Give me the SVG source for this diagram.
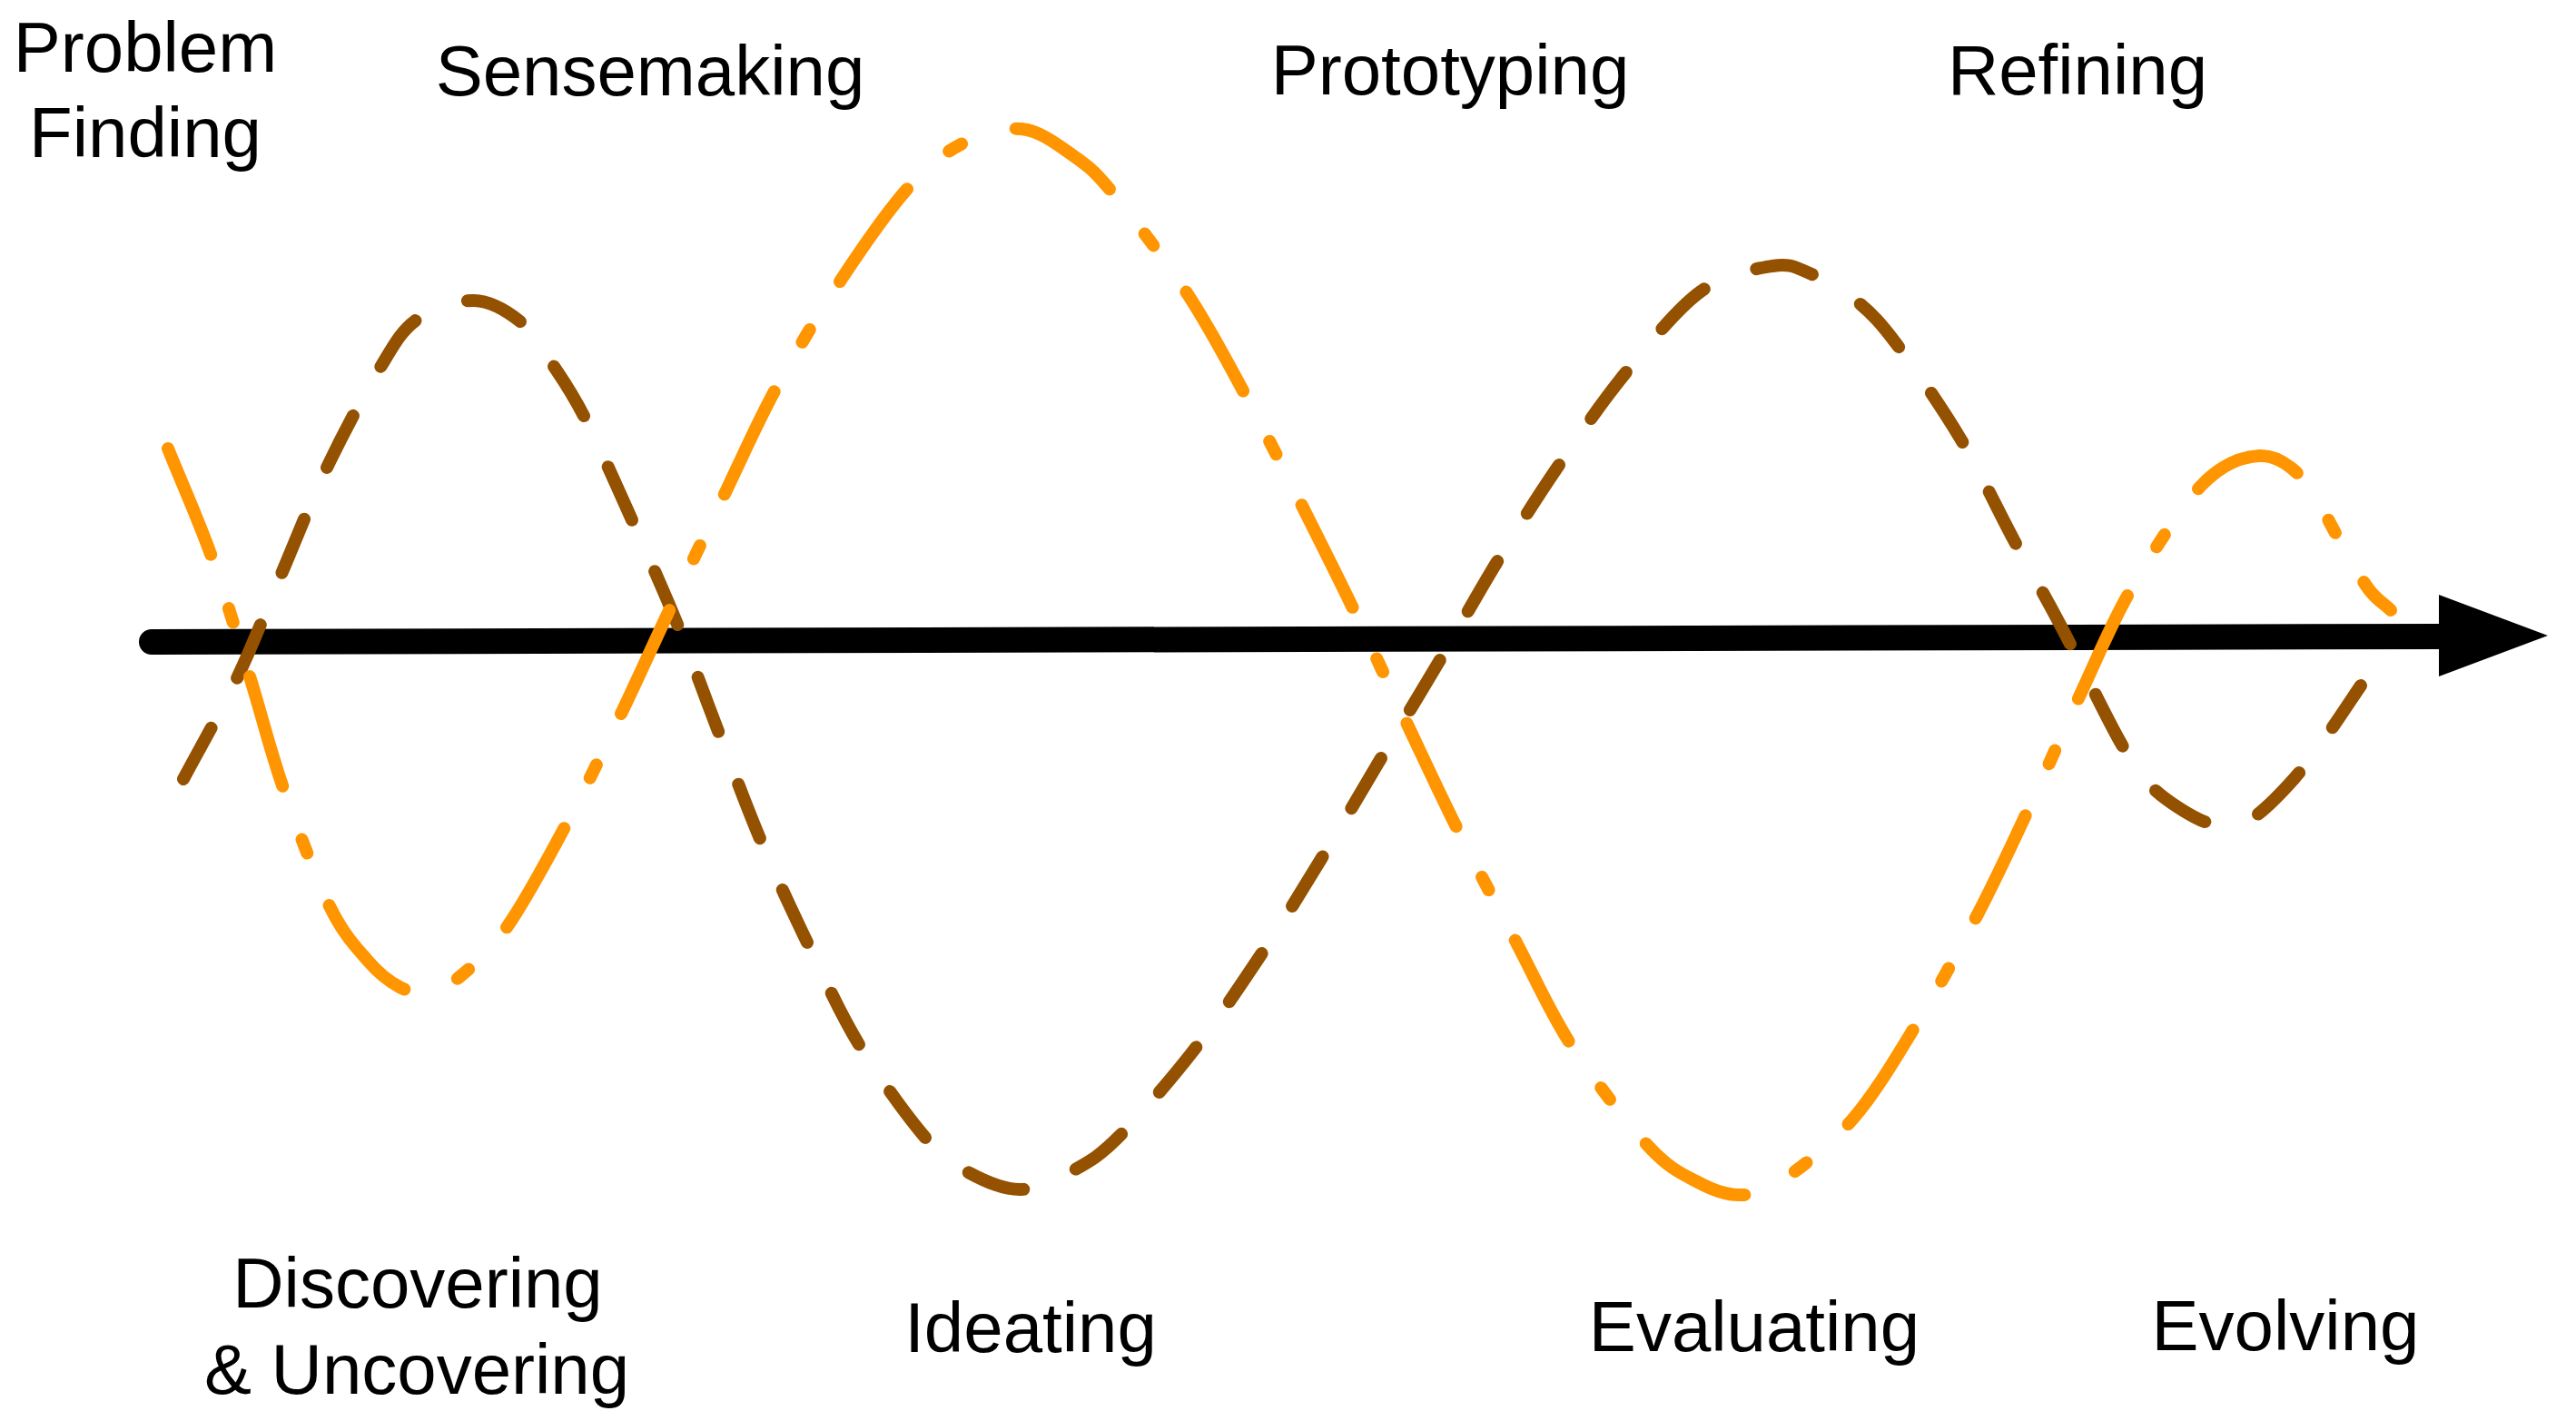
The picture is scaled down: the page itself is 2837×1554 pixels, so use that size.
<svg xmlns="http://www.w3.org/2000/svg" width="2837" height="1554" viewBox="0 0 2837 1554">
<style>
.lbl{font-family:"Liberation Sans",Arial,Helvetica,sans-serif;font-size:78px;fill:#000;text-anchor:middle}
.wave{fill:none;stroke-width:14;stroke-linecap:round;stroke-linejoin:round}
.orange{stroke:#FF9500;stroke-dasharray:126 62.5 16 62.5}
.brown{stroke:#945200;stroke-dasharray:64 62}
</style>
<rect x="0" y="0" width="2837" height="1554" fill="#fff"/>
<g id="connectors">
<path d="M167,707 L2690,701" stroke="#000" stroke-width="28" stroke-linecap="round" fill="none"/>
<polygon points="2686,655 2806,700 2686,745" fill="#000"/>
</g>
<g id="waves">
<path id="wave-brown" class="wave brown" d="M202,858 C221.7,821 243,784.3 261,747 C279,709.3 293.5,670.7 310,632 C326.5,593.3 342,552.7 360,515 C378,477.3 401.5,433.2 418,406 C434.5,378.8 441.7,364.5 459,352 C476.3,339.5 502.8,330.5 522,331 C541.2,331.5 559.5,343.2 574,355 C588.5,366.8 597.3,384.5 609,402 C620.7,419.5 629.3,431.2 644,460 C658.7,488.8 679.8,536.7 697,575 C714.2,613.3 731.2,651.2 747,690 C762.8,728.8 776.8,768.7 792,808 C807.2,847.3 821.7,887.3 838,926 C854.3,964.7 871.8,1002.3 890,1040 C908.2,1077.7 925.3,1116.3 947,1152 C968.7,1187.7 999.8,1230.7 1020,1254 C1040.2,1277.3 1050.5,1282.7 1068,1292 C1085.5,1301.3 1105.7,1310.7 1125,1310 C1144.3,1309.3 1165.8,1298 1184,1288 C1202.2,1278 1212,1272.2 1234,1250 C1256,1227.8 1290.2,1188.2 1316,1155 C1341.8,1121.8 1365.8,1085.8 1389,1051 C1412.2,1016.2 1433,982 1455,946 C1477,910 1499.5,871 1521,835 C1542.5,799 1562.8,765.8 1584,730 C1605.2,694.2 1626.2,655.8 1648,620 C1669.8,584.2 1691.3,549.8 1715,515 C1738.7,480.2 1763.7,443.3 1790,411 C1816.3,378.7 1846,340.7 1873,321 C1900,301.3 1932,296.3 1952,293 C1972,289.7 1977.7,294.7 1993,301 C2008.3,307.3 2028.2,318.2 2044,331 C2059.8,343.8 2068.8,352.7 2088,378 C2107.2,403.3 2137.3,446.8 2159,483 C2180.7,519.2 2199.5,560.5 2218,595 C2236.5,629.5 2250.5,653 2270,690 C2289.5,727 2318.5,787.7 2335,817 C2351.5,846.3 2354.7,851.8 2369,866 C2383.3,880.2 2407.2,895.2 2421,902 C2434.8,908.8 2442,907.2 2452,907 C2462,906.8 2468.5,909.3 2481,901 C2493.5,892.7 2513.2,872.5 2527,857 C2540.8,841.5 2551.8,825 2564,808 C2576.2,791 2588,772.7 2600,755"/>
<path id="wave-orange" class="wave orange" d="M185,494 C201,533.7 218,571.2 233,613 C248,654.8 261.8,702.5 275,745 C288.2,787.5 297.3,825.8 312,868 C326.7,910.2 347.5,966.3 363,998 C378.5,1029.7 392.2,1043.2 405,1058 C417.8,1072.8 429.2,1081.3 440,1087 C450.8,1092.7 459,1093.8 470,1092 C481,1090.2 491.2,1088 506,1076 C520.8,1064 539.5,1047.8 559,1020 C578.5,992.2 602,948.3 623,909 C644,869.7 665.7,824.2 685,784 C704.3,743.8 720,708.3 739,668 C758,627.7 779.7,582.2 799,542 C818.3,501.8 833.7,466.2 855,427 C876.3,387.8 902.7,343.8 927,307 C951.3,270.2 978.8,230.8 1001,206 C1023.2,181.2 1039.3,168.7 1060,158 C1080.7,147.3 1105,140 1125,142 C1145,144 1163.3,158.3 1180,170 C1196.7,181.7 1203.7,186.3 1225,212 C1246.3,237.7 1283.5,286.7 1308,324 C1332.5,361.3 1350.8,396.8 1372,436 C1393.2,475.2 1415,519.3 1435,559 C1455,598.7 1472.7,633.8 1492,674 C1511.3,714.2 1532,759.8 1551,800 C1570,840.2 1586,875 1606,915 C1626,955 1650.2,1000.5 1671,1040 C1691.8,1079.5 1706.8,1114.8 1731,1152 C1755.2,1189.2 1792.8,1238 1816,1263 C1839.2,1288 1853.5,1293.2 1870,1302 C1886.5,1310.8 1900,1316 1915,1316 C1930,1316 1939.2,1315.8 1960,1302 C1980.8,1288.2 2015,1261.8 2040,1233 C2065,1204.2 2087,1166.7 2110,1129 C2133,1091.3 2157.3,1046.7 2178,1007 C2198.7,967.3 2215.2,931.3 2234,891 C2252.8,850.7 2272.2,805.3 2291,765 C2309.8,724.7 2324.7,687.5 2347,649 C2369.3,610.5 2401.5,558.5 2425,534 C2448.5,509.5 2469.5,503.2 2488,502 C2506.5,500.8 2521.3,511.7 2536,527 C2550.7,542.3 2564,573.8 2576,594 C2588,614.2 2598.5,635 2608,648 C2617.5,661 2624.7,664 2633,672"/>
</g>
<g id="label-problem-finding"><text class="lbl" x="160" y="79">Problem</text><text class="lbl" x="160" y="173">Finding</text></g>
<g id="label-sensemaking"><text class="lbl" x="716" y="105">Sensemaking</text></g>
<g id="label-prototyping"><text class="lbl" x="1597" y="104">Prototyping</text></g>
<g id="label-refining"><text class="lbl" x="2288" y="104">Refining</text></g>
<g id="label-discovering"><text class="lbl" x="460" y="1440">Discovering</text><text class="lbl" x="459" y="1535">&amp; Uncovering</text></g>
<g id="label-ideating"><text class="lbl" x="1135" y="1489">Ideating</text></g>
<g id="label-evaluating"><text class="lbl" x="1932" y="1488">Evaluating</text></g>
<g id="label-evolving"><text class="lbl" x="2517" y="1487">Evolving</text></g>
</svg>
